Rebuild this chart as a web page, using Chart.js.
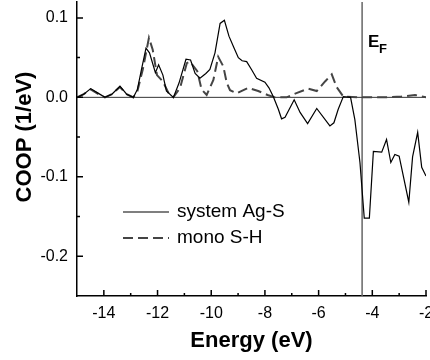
<!DOCTYPE html>
<html>
<head>
<meta charset="utf-8">
<script src="https://cdn.jsdelivr.net/npm/chart.js@4.4.1/dist/chart.umd.min.js"></script>
<style>
  html, body { margin: 0; padding: 0; background: #fff; }
  #coop { display: block; }
</style>
</head>
<body>
<canvas id="coop" width="430" height="360"></canvas>
<script>
// axis ticks
const energyTicks = [-14, -12, -10, -8, -6, -4, -2];
const energyMinor = [-13, -11, -9, -7, -5, -3];
const coopTicks = [0.1, 0.0, -0.1, -0.2];
const coopMinor = [0.05, -0.05, -0.15];
const fermiLevel = -4.38;

// system Ag-S (solid)
const agsEnergy = [-15.0, -14.75, -14.49, -14.2, -13.96, -13.7, -13.4, -13.15, -12.9, -12.75, -12.6, -12.43, -12.3,
  -12.08, -11.96, -11.8, -11.67, -11.41, -11.2, -10.94, -10.77, -10.6, -10.42, -10.2, -10.05, -9.86, -9.67, -9.51,
  -9.34, -9.15, -8.99, -8.85, -8.68, -8.5, -8.31, -8.0, -7.85, -7.69, -7.5, -7.38, -7.25, -6.91, -6.69, -6.41, -6.07,
  -5.58, -5.43, -5.27, -5.08, -4.81, -4.65, -4.46, -4.3, -4.11, -3.96, -3.65, -3.47, -3.31, -3.16, -3.0, -2.64, -2.5,
  -2.31, -2.16, -2.0];
const agsCoop = [0.000, 0.004, 0.011, 0.005, 0.000, 0.004, 0.014, 0.004, 0.000, 0.010, 0.035, 0.062, 0.056,
  0.031, 0.041, 0.028, 0.008, 0.000, 0.018, 0.048, 0.047, 0.030, 0.024, 0.030, 0.035, 0.056, 0.093, 0.097,
  0.077, 0.062, 0.050, 0.046, 0.045, 0.035, 0.024, 0.019, 0.012, 0.001, -0.015, -0.027, -0.025, -0.003, -0.019, -0.033, -0.014,
  -0.036, -0.032, -0.015, 0.001, 0.000, -0.028, -0.082, -0.152, -0.152, -0.068, -0.069, -0.053, -0.082, -0.072, -0.074, -0.132, -0.075,
  -0.044, -0.088, -0.099];

// mono S-H (dashed)
const shEnergy = [-15.0, -14.75, -14.49, -14.2, -13.96, -13.7, -13.4, -13.15, -12.9, -12.75, -12.55, -12.32, -12.18,
  -12.02, -11.8, -11.6, -11.41, -11.16, -10.91, -10.79, -10.52, -10.36, -10.17, -9.92, -9.74, -9.55, -9.42, -9.3,
  -9.05, -8.62, -8.25, -7.9, -7.63, -7.19, -6.85, -6.39, -6.07, -5.76, -5.51, -5.33, -5.08, -4.5, -3.5, -2.91, -2.41, -2.0];
const shCoop = [0.000, 0.004, 0.010, 0.004, 0.000, 0.004, 0.013, 0.004, 0.000, 0.008, 0.035, 0.075, 0.060,
  0.028, 0.020, 0.006, 0.000, 0.012, 0.043, 0.045, 0.033, 0.010, 0.003, 0.022, 0.051, 0.039, 0.018, 0.009,
  0.005, 0.012, 0.008, 0.003, 0.000, 0.000, 0.005, 0.011, 0.008, 0.020, 0.029, 0.013, 0.001, 0.000, 0.000, 0.001, 0.003, 0.000];

const toPoints = (xs, ys) => xs.map((x, i) => ({ x: x, y: ys[i] }));

const FONT = "'Liberation Sans', Arial, sans-serif";

// inward ticks, legend, y title and E_F label
const decorations = {
  id: 'decorations',
  afterDraw(chart) {
    const ctx = chart.ctx;
    const xs = chart.scales.x, ys = chart.scales.y;
    const area = chart.chartArea;
    ctx.save();
    ctx.strokeStyle = '#000';
    ctx.lineWidth = 1.5;
    ctx.beginPath();
    energyTicks.forEach(v => { const px = xs.getPixelForValue(v); ctx.moveTo(px, area.bottom); ctx.lineTo(px, area.bottom - 6); });
    energyMinor.forEach(v => { const px = xs.getPixelForValue(v); ctx.moveTo(px, area.bottom); ctx.lineTo(px, area.bottom - 3); });
    coopTicks.forEach(v => { const py = ys.getPixelForValue(v); ctx.moveTo(area.left, py); ctx.lineTo(area.left + 6, py); });
    coopMinor.forEach(v => { const py = ys.getPixelForValue(v); ctx.moveTo(area.left, py); ctx.lineTo(area.left + 3, py); });
    ctx.stroke();

    // legend
    const ds = chart.data.datasets;
    [[ds[0], 212], [ds[1], 238]].forEach(([d, y]) => {
      ctx.beginPath();
      ctx.strokeStyle = d.borderColor;
      ctx.lineWidth = d.borderWidth;
      ctx.setLineDash(d.borderDash || []);
      ctx.moveTo(123, y);
      ctx.lineTo(169, y);
      ctx.stroke();
      ctx.setLineDash([]);
      ctx.fillStyle = '#000';
      ctx.font = '19px ' + FONT;
      ctx.textBaseline = 'middle';
      ctx.textAlign = 'left';
      ctx.fillText(d.label, 177, y);
    });

    // y title
    ctx.save();
    ctx.translate(25, 137);
    ctx.rotate(-Math.PI / 2);
    ctx.font = 'bold 22px ' + FONT;
    ctx.textAlign = 'center';
    ctx.textBaseline = 'middle';
    ctx.fillText('COOP (1/eV)', 0, 0);
    ctx.restore();

    // E_F
    const fx = xs.getPixelForValue(fermiLevel);
    ctx.font = 'bold 17px ' + FONT;
    ctx.textAlign = 'left';
    ctx.textBaseline = 'alphabetic';
    ctx.fillText('E', fx + 6, 47);
    ctx.font = 'bold 13px ' + FONT;
    ctx.fillText('F', fx + 17, 53);
    ctx.restore();
  }
};

const noPad = s => { s.paddingTop = 0; s.paddingBottom = 0; s.paddingLeft = 0; s.paddingRight = 0; };

new Chart(document.getElementById('coop'), {
  type: 'line',
  data: {
    datasets: [
      { label: 'system Ag-S', data: toPoints(agsEnergy, agsCoop), borderColor: '#000', borderWidth: 1.2, pointRadius: 0, tension: 0 },
      { label: 'mono S-H', data: toPoints(shEnergy, shCoop), borderColor: '#444', borderWidth: 2, borderDash: [10, 5], pointRadius: 0, tension: 0 },
      { label: 'zero', data: [{ x: -15, y: 0 }, { x: -2, y: 0 }], borderColor: '#333', borderWidth: 1, pointRadius: 0 },
      { label: 'fermi', data: [{ x: fermiLevel, y: -0.25 }, { x: fermiLevel, y: 0.12 }], borderColor: '#666', borderWidth: 1.5, pointRadius: 0 }
    ]
  },
  options: {
    responsive: false,
    animation: false,
    layout: { padding: { top: 2, right: 4, left: 0, bottom: 0 } },
    plugins: { legend: { display: false }, tooltip: { enabled: false } },
    scales: {
      x: {
        type: 'linear',
        min: -15, max: -2,
        afterBuildTicks: s => { s.ticks = energyTicks.map(v => ({ value: v })); },
        afterFit: s => { s.height = 64; noPad(s); },
        grid: { display: false },
        border: { display: true, color: '#000', width: 1.5 },
        ticks: { color: '#000', font: { family: FONT, size: 16 }, padding: 0, maxRotation: 0 },
        title: { display: true, text: 'Energy (eV)', color: '#000', font: { family: FONT, size: 22, weight: 'bold' }, padding: { top: 0, bottom: 6 } }
      },
      y: {
        min: -0.25, max: 0.12,
        afterBuildTicks: s => { s.ticks = coopTicks.map(v => ({ value: v })); },
        afterFit: s => { s.width = 77; noPad(s); },
        grid: { display: false },
        border: { display: true, color: '#000', width: 1.5 },
        ticks: { color: '#000', font: { family: FONT, size: 16 }, padding: 1, callback: v => v.toFixed(1) }
      }
    }
  },
  plugins: [decorations]
});
</script>
</body>
</html>
